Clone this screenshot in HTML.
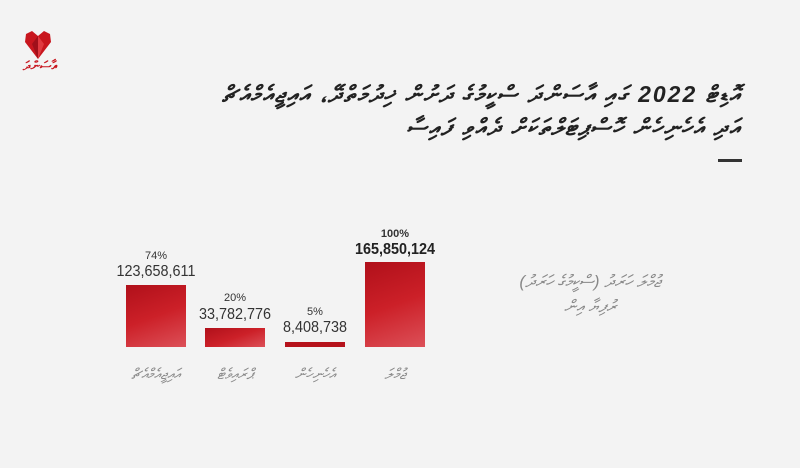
<!DOCTYPE html>
<html><head><meta charset="utf-8"><style>
body{margin:0;width:800px;height:468px;background:#f3f3f3;position:relative;overflow:hidden;font-family:"Liberation Sans","DejaVu Sans",sans-serif}
.a{position:absolute}
.bar{position:absolute;background:linear-gradient(160deg,#b0101a 0%,#cc2028 50%,#dc5058 100%)}
.t{position:absolute;text-align:center;color:#333}
.n{transform:scaleX(0.9)}
.th{position:absolute;direction:rtl;color:#222;font-style:italic}
.lab{position:absolute;text-align:center;color:#888;font-size:15px;font-style:italic;direction:rtl}
</style></head><body>
<svg class="a" style="left:24px;top:30px" width="28" height="30" viewBox="0 0 28 30"><path d="M14 6 L8 1 L2 4 L1 12 L14 29 L27 12 L26 4 L20 1 Z" fill="#c8161e"/><path d="M14 6 L8 14 L14 29 Z" fill="#a0101a"/><path d="M14 6 L20 14 L14 29 Z" fill="#e03a40"/></svg>
<div class="a" style="left:20px;top:58px;color:#c8161e;font-size:13px;font-weight:bold;direction:rtl;width:40px;text-align:center">އާސަންދަ</div>
<div class="th" style="right:58px;top:81px;font-size:23px;font-weight:bold;white-space:nowrap;letter-spacing:2px">އޮޑިޓް 2022 ގައި އާސަންދަ ސްކީމުގެ ދަށުން ޚިދުމަތްދޭ، އައިޖީއެމްއެޗް</div>
<div class="th" style="right:58px;top:114px;font-size:23px;font-weight:bold;white-space:nowrap;letter-spacing:2px">އަދި އެހެނިހެން ހޮސްޕިޓަލްތަކަށް ދެއްވި ފައިސާ</div>
<div class="a" style="left:718px;top:159px;width:24px;height:3px;background:#333"></div>

<div class="t" style="left:116px;top:250px;width:80px;font-size:11px">74%</div>
<div class="t n" style="left:101px;top:263px;width:110px;font-size:16px">123,658,611</div>
<div class="bar" style="left:126px;top:285px;width:60px;height:62px"></div>

<div class="t" style="left:195px;top:292px;width:80px;font-size:11px">20%</div>
<div class="t n" style="left:180px;top:306px;width:110px;font-size:16px">33,782,776</div>
<div class="bar" style="left:205px;top:328px;width:60px;height:19px"></div>

<div class="t" style="left:275px;top:306px;width:80px;font-size:11px">5%</div>
<div class="t n" style="left:260px;top:319px;width:110px;font-size:16px">8,408,738</div>
<div class="bar" style="left:285px;top:342px;width:60px;height:5px;background:#b5121b"></div>

<div class="t" style="left:355px;top:228px;width:80px;font-size:11px;font-weight:bold">100%</div>
<div class="t n" style="left:335px;top:241px;width:120px;font-size:16px;font-weight:bold;color:#222">165,850,124</div>
<div class="bar" style="left:365px;top:262px;width:60px;height:85px"></div>

<div class="lab" style="left:111px;top:366px;width:90px">އައިޖީއެމްއެޗް</div>
<div class="lab" style="left:190px;top:366px;width:90px">ޕްރައިވެޓް</div>
<div class="lab" style="left:270px;top:366px;width:90px">އެހެނިހެން</div>
<div class="lab" style="left:350px;top:366px;width:90px">ޖުމްލަ</div>

<div class="lab" style="left:480px;top:272px;width:220px;font-size:17px">ޖުމްލަ ހަރަދު (ސްކީމުގެ ހަރަދު)</div>
<div class="lab" style="left:480px;top:297px;width:220px;font-size:17px">ރުފިޔާ އިން</div>
</body></html>
